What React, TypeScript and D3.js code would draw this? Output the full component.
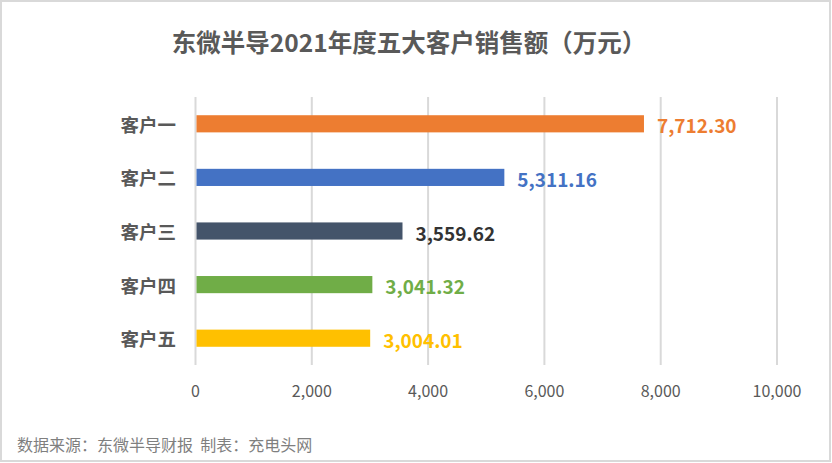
import React from "react";
import * as d3 from "d3";

const categories = ["客户一", "客户二", "客户三", "客户四", "客户五"];
const values = [7712.3, 5311.16, 3559.62, 3041.32, 3004.01];
const barColors = ["#ED7D31", "#4472C4", "#44546A", "#70AD47", "#FFC000"];
const labelColors = ["#ED7D31", "#4472C4", "#333333", "#70AD47", "#FFC000"];
const ticks = [0, 2000, 4000, 6000, 8000, 10000];
const title = "东微半导2021年度五大客户销售额（万元）";
const footer = "数据来源：东微半导财报\u00A0\u00A0制表：充电头网";

const W = 832;
const H = 463;
const FONT = "'Noto Sans CJK SC', 'Noto Sans', sans-serif";

export default function App() {
  const x = d3.scaleLinear().domain([0, 10000]).range([195.5, 777]);
  const y = d3.scaleBand().domain(categories).range([97, 365]).paddingInner(0.68).paddingOuter(0.34);
  const fmt = d3.format(",.2f");
  const tfmt = d3.format(",");
  return (
    <svg width={W} height={H} style={{ position: "absolute", left: 0, top: 0, display: "block" }}>
      <rect x={0} y={0} width={W} height={H} fill="#fff" />
      <rect x={1} y={1} width={829} height={460} fill="none" stroke="#d9d9d9" strokeWidth={2} />
      <text x={409} y={41} textAnchor="middle" dominantBaseline="central" fontFamily={FONT} fontWeight="bold" fontSize={24.5} fill="#595959">
        {title}
      </text>
      {ticks.map((t) => (
        <g key={t}>
          <line x1={x(t)} x2={x(t)} y1={97} y2={365} stroke="#d9d9d9" strokeWidth={2} />
          <text x={x(t)} y={390} textAnchor="middle" dominantBaseline="central" fontFamily={FONT} fontSize={16} fill="#595959">
            {tfmt(t)}
          </text>
        </g>
      ))}
      {categories.map((c, i) => {
        const yc = (y(c) as number) + y.bandwidth() / 2;
        return (
          <g key={c}>
            <rect x={x(0) + 1} y={y(c)} width={x(values[i]) - x(0) - 1} height={y.bandwidth()} fill={barColors[i]} />
            <text x={176} y={yc} textAnchor="end" dominantBaseline="central" fontFamily={FONT} fontWeight="bold" fontSize={18.5} fill="#595959">
              {c}
            </text>
            <text x={x(values[i]) + 13} y={yc + 1} textAnchor="start" dominantBaseline="central" fontFamily={FONT} fontWeight="bold" fontSize={19} fill={labelColors[i]}>
              {fmt(values[i])}
            </text>
          </g>
        );
      })}
      <text x={17} y={444} dominantBaseline="central" fontFamily={FONT} fontSize={16} fill="#7f7f7f">
        {footer}
      </text>
    </svg>
  );
}
